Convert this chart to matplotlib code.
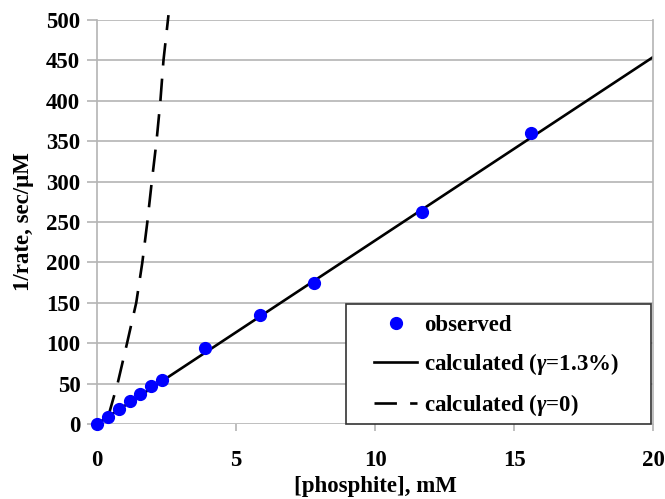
import matplotlib
matplotlib.use("Agg")
import matplotlib.pyplot as plt
from matplotlib.patches import Rectangle

plt.rcParams['font.family'] = ['Liberation Serif', 'DejaVu Serif']
plt.rcParams['font.weight'] = 'bold'
plt.rcParams['mathtext.fontset'] = 'custom'
plt.rcParams['mathtext.rm'] = 'Liberation Serif:bold'
plt.rcParams['mathtext.it'] = 'Liberation Serif:italic:bold'

# observed data
obs_x = [0, 0.39, 0.78, 1.17, 1.56, 1.95, 2.34, 3.9, 5.85, 7.8, 11.7, 15.6]
obs_y = [0, 9, 19, 29, 37, 47, 55, 94, 135, 174, 262, 360]

# calculated, gamma = 1.3%
calc_x = [0, 20]
calc_y = [0, 454]

# calculated, gamma = 0
calc0_x = [0.4, 0.74, 1.08, 1.41, 1.63, 1.81, 1.97, 2.14, 2.28, 2.39, 2.57]
calc0_y = [9, 50, 100, 150, 200, 250, 300, 350, 400, 450, 506]

xticks = [0, 5, 10, 15, 20]
yticks = list(range(0, 501, 50))

FS = 16.5

fig = plt.figure(figsize=(6.65, 4.99), dpi=100)
ax = fig.add_axes([0.1459, 0.1503, 0.9820 - 0.1459, 0.96 - 0.1503])

grid_c = '#b4b4b4'
for yv in yticks:
    ax.axhline(yv, color=grid_c, lw=1.2, zorder=0)

ax.plot(calc_x, calc_y, color='black', lw=1.9, label='calculated ($\\mathit{\\gamma}$=1.3%)', zorder=2)
ax.plot(calc0_x, calc0_y, color='black', lw=1.9, dashes=(8.5, 5),
        label='calculated ($\\mathit{\\gamma}$=0)', zorder=2, clip_on=False)
ax.plot(obs_x, obs_y, 'o', color='#0000ff', ms=8.5, mec='#0000ff',
        label='observed', zorder=3, clip_on=False)

ax.set_xlim(0, 20)
ax.set_ylim(0, 500)
ax.set_xticks(xticks)
ax.set_yticks(yticks)
ax.tick_params(axis='both', direction='out', color=grid_c, width=1.2,
               labelsize=FS)
ax.tick_params(axis='x', length=5, pad=14)
ax.tick_params(axis='y', length=7, pad=5)
for lab in ax.get_xticklabels() + ax.get_yticklabels():
    lab.set_fontweight('bold')

for s in ['left', 'right']:
    ax.spines[s].set_color(grid_c)
    ax.spines[s].set_linewidth(1.2)
ax.spines['top'].set_visible(False)
ax.spines['bottom'].set_visible(False)

ax.set_xlabel('[phosphite], mM', fontsize=FS, fontweight='bold', labelpad=3)
ax.set_ylabel('1/rate, sec/μM', fontsize=FS, fontweight='bold', labelpad=9)

# legend frame
ax.add_patch(Rectangle((0.447, 0.0), 0.996 - 0.447, 0.297, transform=ax.transAxes,
                       facecolor='white', edgecolor='#333333', lw=1.2,
                       zorder=4, clip_on=False))

handles, labels = ax.get_legend_handles_labels()
order = [2, 0, 1]
leg = ax.legend([handles[i] for i in order], [labels[i] for i in order],
                loc='center left', bbox_to_anchor=(0.499, 0.142),
                frameon=False, borderpad=0.0, labelspacing=0.66,
                handlelength=1.87, handletextpad=0.3, borderaxespad=0.0,
                prop={'weight': 'bold', 'size': FS})
leg.set_zorder(5)

fig.savefig('out.png', dpi=100)
